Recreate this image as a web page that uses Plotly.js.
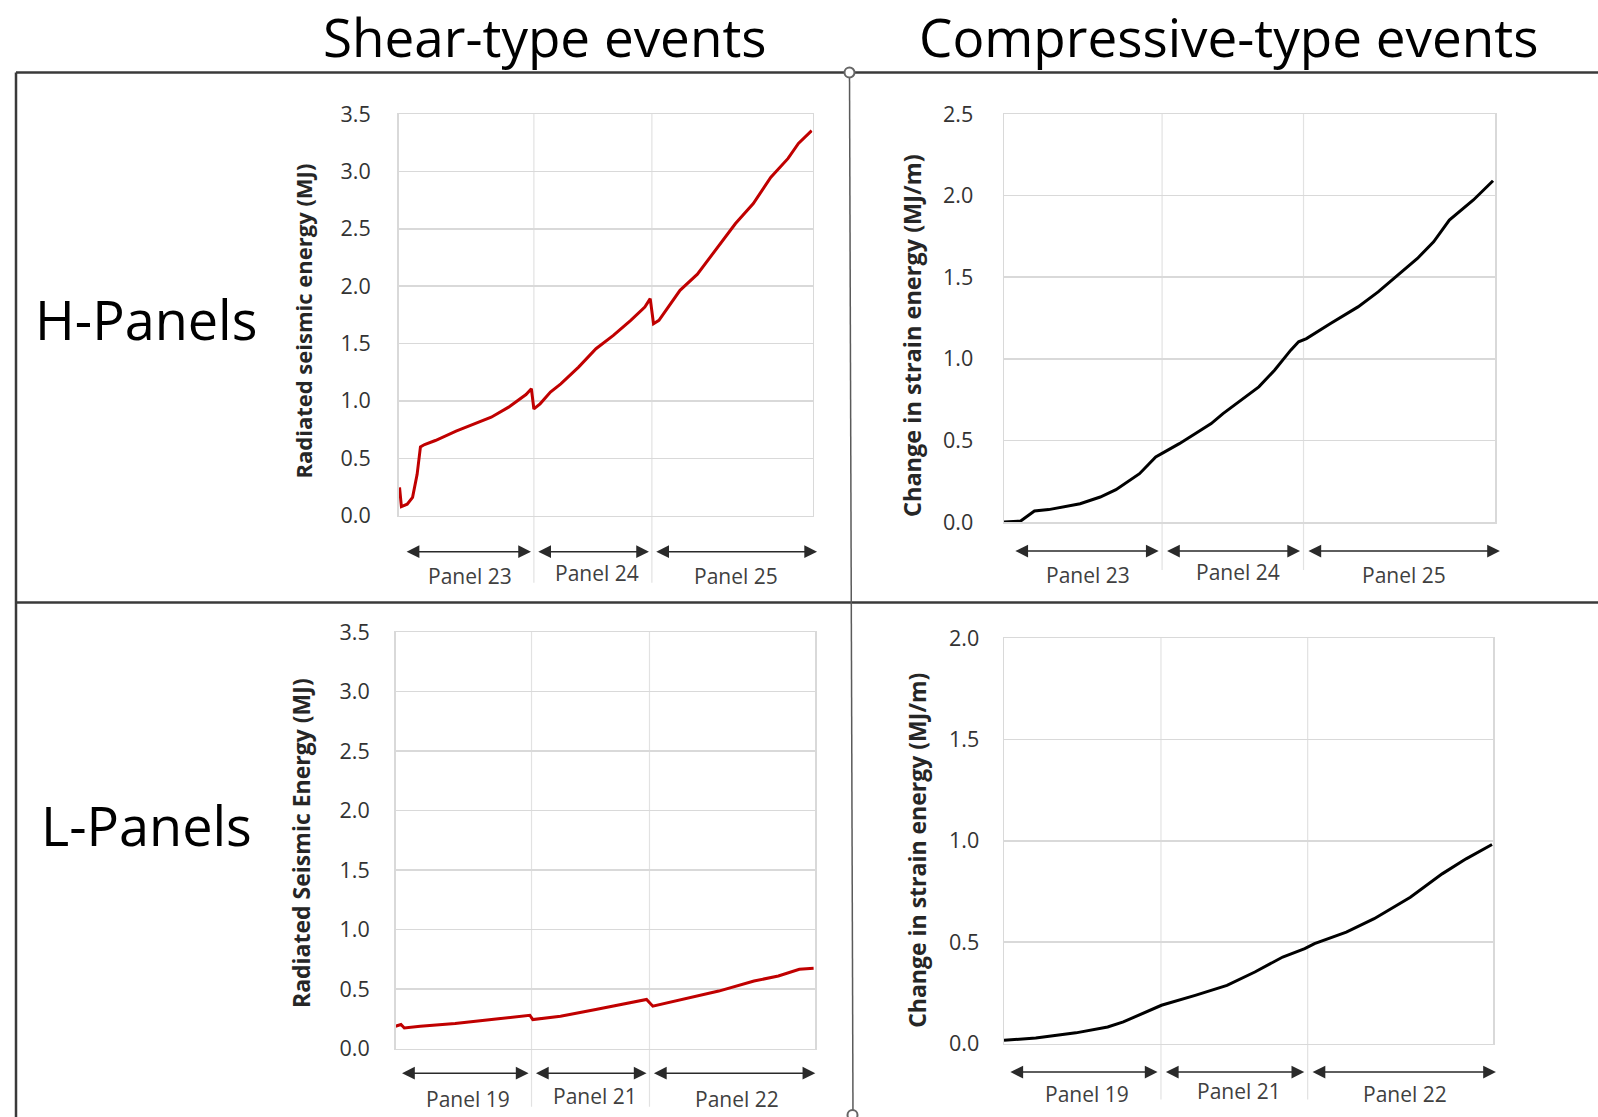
<!DOCTYPE html>
<html>
<head>
<meta charset="utf-8">
<script src="https://cdn.plot.ly/plotly-3.0.1.min.js"></script>
<style>
  html, body { margin: 0; padding: 0; background: #ffffff; }
  #chart { width: 1598px; height: 1117px; }
</style>
</head>
<body>
<div id="chart"></div>
<script>
// ---- Data: cumulative energy against mining step (0-100 across three panels) ----
const columnTitles = ['Shear-type events', 'Compressive-type events'];
const rowTitles = ['H-Panels', 'L-Panels'];

const hPanelNames = ['Panel 23', 'Panel 24', 'Panel 25'];
const lPanelNames = ['Panel 19', 'Panel 21', 'Panel 22'];

// H-panels, shear-type: radiated seismic energy (MJ)
const hShearStep = [0.25, 0.7, 2.1, 3.4, 4.5, 5.3, 6.3, 8.9, 13.9, 18.1, 22.4, 26.6, 30.8, 32.1, 32.7, 34.2, 36.7, 39.2, 43.5, 47.7, 51.9, 56.1, 59.5, 60.8, 61.6, 62.9, 64.6, 68.0, 72.2, 77.2, 81.4, 85.7, 89.9, 94.1, 96.6, 99.8];
const hShearEnergy = [0.247, 0.079, 0.10, 0.16, 0.36, 0.60, 0.62, 0.655, 0.736, 0.794, 0.858, 0.946, 1.056, 1.106, 0.93, 0.975, 1.077, 1.149, 1.295, 1.455, 1.571, 1.702, 1.818, 1.891, 1.673, 1.702, 1.789, 1.964, 2.104, 2.342, 2.546, 2.720, 2.947, 3.113, 3.244, 3.355];
const hShearBreaks = [0, 32.7, 61.2, 100];

// H-panels, compressive-type: change in strain energy (MJ/m)
const hCompStep = [0, 3.4, 5.0, 6.2, 9.1, 12.3, 15.5, 19.6, 22.8, 27.6, 30.9, 32.1, 35.7, 39.0, 42.2, 44.6, 47.9, 51.9, 55.1, 58.4, 60.0, 61.6, 66.5, 72.1, 76.2, 81.0, 84.2, 87.5, 90.7, 95.6, 99.6];
const hCompEnergy = [0, 0.006, 0.041, 0.067, 0.076, 0.092, 0.112, 0.153, 0.198, 0.296, 0.399, 0.419, 0.480, 0.542, 0.603, 0.664, 0.736, 0.828, 0.930, 1.053, 1.104, 1.124, 1.216, 1.318, 1.410, 1.533, 1.615, 1.717, 1.850, 1.973, 2.091];
const hCompBreaks = [0, 32.2, 61.0, 100];

// L-panels, shear-type: radiated seismic energy (MJ)
const lShearStep = [0, 1.3, 2.1, 5.9, 14.2, 22.6, 31.0, 32.0, 32.7, 39.3, 47.7, 56.1, 59.8, 61.3, 68.6, 77.0, 85.4, 91.2, 96.2, 99.6];
const lShearEnergy = [0.189, 0.203, 0.174, 0.189, 0.211, 0.245, 0.279, 0.281, 0.245, 0.273, 0.329, 0.385, 0.414, 0.357, 0.414, 0.484, 0.568, 0.611, 0.667, 0.675];
const lShearBreaks = [0, 32.4, 60.5, 100];

// L-panels, compressive-type: change in strain energy (MJ/m)
const lCompStep = [0, 6.5, 14.7, 21.2, 24.4, 29.3, 32.2, 39.1, 45.6, 51.3, 57.0, 61.5, 63.5, 70.0, 75.7, 83.1, 89.6, 94.5, 99.8];
const lCompEnergy = [0.016, 0.028, 0.053, 0.082, 0.107, 0.156, 0.189, 0.238, 0.287, 0.353, 0.427, 0.468, 0.493, 0.550, 0.616, 0.722, 0.837, 0.911, 0.982];
const lCompBreaks = [0, 32.1, 62.1, 100];

const yTitleShearH = 'Radiated seismic energy (MJ)';
const yTitleShearL = 'Radiated Seismic Energy (MJ)';
const yTitleComp = 'Change in strain energy (MJ/m)';

// ---- Page geometry (pixels) ----
const W = 1598, H = 1117;
const fx = v => v / W;
const fy = v => 1 - v / H;

const RED = '#c00000';
const BLACK = '#000000';
const FONT = '"Open Sans", "Liberation Sans", Arial, sans-serif';

const panels = [
  { step: hShearStep, energy: hShearEnergy, breaks: hShearBreaks, names: hPanelNames,
    color: RED, ymax: 3.5, title: yTitleShearH, titleSize: 22, titleShift: 6,
    box: { l: 398.5, r: 812.5, t: 114, b: 515.7 }, titleX: 302.7,
    standoff: 22, arrowOff: 36, labelOff: 60, gridOff: 67, padStart: 1.6, padEnd: 1.1 },
  { step: hCompStep, energy: hCompEnergy, breaks: hCompBreaks, names: hPanelNames,
    color: BLACK, ymax: 2.5, title: yTitleComp, titleSize: 23.5, titleShift: 18,
    box: { l: 1004, r: 1495, t: 114, b: 522 }, titleX: 912,
    standoff: 25, arrowOff: 29, labelOff: 53, gridOff: 48, padStart: 2.0, padEnd: 1.0 },
  { step: lShearStep, energy: lShearEnergy, breaks: lShearBreaks, names: lPanelNames,
    color: RED, ymax: 3.5, title: yTitleShearL, titleSize: 23, titleShift: 3,
    box: { l: 395.5, r: 815.3, t: 632, b: 1048.7 }, titleX: 301.7,
    standoff: 20, arrowOff: 24.5, labelOff: 50, gridOff: 58, padStart: 1.2, padEnd: 0 },
  { step: lCompStep, energy: lCompEnergy, breaks: lCompBreaks, names: lPanelNames,
    color: BLACK, ymax: 2.0, title: yTitleComp, titleSize: 23, titleShift: 10,
    box: { l: 1004, r: 1493, t: 638, b: 1043.6 }, titleX: 917,
    standoff: 19, arrowOff: 28.5, labelOff: 50, gridOff: 56, padStart: 1.0, padEnd: 0.6 }
];

const traces = [];
const annotations = [];
const shapes = [];
const layout = {
  width: W, height: H,
  margin: { l: 0, r: 0, t: 0, b: 0 },
  paper_bgcolor: '#ffffff',
  plot_bgcolor: '#ffffff',
  showlegend: false,
  font: { family: FONT, color: '#404040' }
};

panels.forEach((p, i) => {
  const n = i + 1;
  const sfx = n === 1 ? '' : String(n);
  const xa = 'x' + sfx, ya = 'y' + sfx;
  const plotH = p.box.b - p.box.t;

  traces.push({
    x: p.step, y: p.energy, xaxis: xa, yaxis: ya,
    type: 'scatter', mode: 'lines',
    line: { color: p.color, width: 3 },
    hoverinfo: 'skip'
  });

  layout['xaxis' + sfx] = {
    domain: [fx(p.box.l), fx(p.box.r)], anchor: ya,
    range: [0, 100], showgrid: false, zeroline: false,
    showticklabels: false, ticks: '',
    showline: true, mirror: true, linecolor: '#d9d9d9', linewidth: 1.5,
    fixedrange: true
  };
  layout['yaxis' + sfx] = {
    domain: [fy(p.box.b), fy(p.box.t)], anchor: xa,
    range: [0, p.ymax], dtick: 0.5, tick0: 0, tickformat: '.1f',
    showgrid: true, gridcolor: '#d9d9d9', gridwidth: 1.5,
    zeroline: false, ticks: '',
    showline: true, mirror: true, linecolor: '#d9d9d9', linewidth: 1.5,
    ticklabelstandoff: p.standoff,
    tickfont: { family: FONT, size: 21.5, color: '#333333' },
    fixedrange: true
  };

  // panel boundaries, running down to the labels
  p.breaks.slice(1, -1).forEach(b => {
    shapes.push({
      type: 'line', xref: xa, yref: ya + ' domain', layer: 'below',
      x0: b, x1: b, y0: -p.gridOff / plotH, y1: 1,
      line: { color: '#e2e2e2', width: 1.2 }
    });
  });

  // double-headed extent arrows and panel names
  const ay = -p.arrowOff / plotH;
  const ly = -p.labelOff / plotH;
  for (let k = 0; k < p.names.length; k++) {
    const a0 = p.breaks[k] + (k === 0 ? p.padStart : 0.7);
    const a1 = p.breaks[k + 1] + (k === p.names.length - 1 ? p.padEnd : -0.7);
    annotations.push({
      xref: xa, yref: ya + ' domain', axref: xa, ayref: ya + ' domain',
      x: a1, y: ay, ax: a0, ay: ay, text: '',
      showarrow: true, arrowside: 'end+start',
      arrowhead: 2, startarrowhead: 2,
      arrowsize: 1.7, startarrowsize: 1.7, arrowwidth: 1.5,
      arrowcolor: '#2a2a2a', standoff: 0, startstandoff: 0
    });
    annotations.push({
      xref: xa, yref: ya + ' domain',
      x: (p.breaks[k] + p.breaks[k + 1]) / 2 + 1, y: ly + (k === 1 ? 3 / plotH : 0),
      text: p.names[k], showarrow: false,
      xanchor: 'center', yanchor: 'middle',
      font: { family: FONT, size: 21, color: '#404040' }
    });
  }

  // y-axis title
  annotations.push({
    xref: 'paper', yref: 'paper',
    x: fx(p.titleX), y: fy((p.box.t + p.box.b) / 2 + p.titleShift),
    text: '<b>' + p.title + '</b>', textangle: -90, showarrow: false,
    xanchor: 'center', yanchor: 'middle',
    font: { family: FONT, size: p.titleSize, color: '#262626' }
  });
});

// column and row headings
[545, 1228].forEach((cx, j) => {
  annotations.push({
    xref: 'paper', yref: 'paper', x: fx(cx), y: fy(36),
    text: columnTitles[j], showarrow: false,
    xanchor: 'center', yanchor: 'middle',
    font: { family: FONT, size: 53, color: '#000000' }
  });
});
[319, 825].forEach((cy, j) => {
  annotations.push({
    xref: 'paper', yref: 'paper', x: fx(146), y: fy(cy),
    text: rowTitles[j], showarrow: false,
    xanchor: 'center', yanchor: 'middle',
    font: { family: FONT, size: 54, color: '#000000' }
  });
});

// table frame around the four charts
const frame = { color: '#3a3a3a', width: 2.5 };
shapes.push(
  { type: 'line', xref: 'paper', yref: 'paper', x0: fx(16), x1: 1, y0: fy(72.5), y1: fy(72.5), line: frame },
  { type: 'line', xref: 'paper', yref: 'paper', x0: fx(16), x1: fx(16), y0: fy(72.5), y1: 0, line: frame },
  { type: 'line', xref: 'paper', yref: 'paper', x0: fx(16), x1: 1, y0: fy(602.5), y1: fy(602.5), line: frame },
  { type: 'line', xref: 'paper', yref: 'paper', x0: fx(849.5), x1: fx(853), y0: fy(72.5), y1: 0,
    line: { color: '#5a5a5a', width: 1.5 } },
  { type: 'circle', xref: 'paper', yref: 'paper', x0: fx(844.5), x1: fx(854.5), y0: fy(67.5), y1: fy(77.5),
    line: { color: '#666666', width: 2 }, fillcolor: '#ffffff' },
  { type: 'circle', xref: 'paper', yref: 'paper', x0: fx(847.5), x1: fx(857.5), y0: fy(1110), y1: fy(1120),
    line: { color: '#666666', width: 2 }, fillcolor: '#ffffff' }
);

layout.annotations = annotations;
layout.shapes = shapes;

Plotly.newPlot('chart', traces, layout, { staticPlot: true, displayModeBar: false });
</script>
</body>
</html>
